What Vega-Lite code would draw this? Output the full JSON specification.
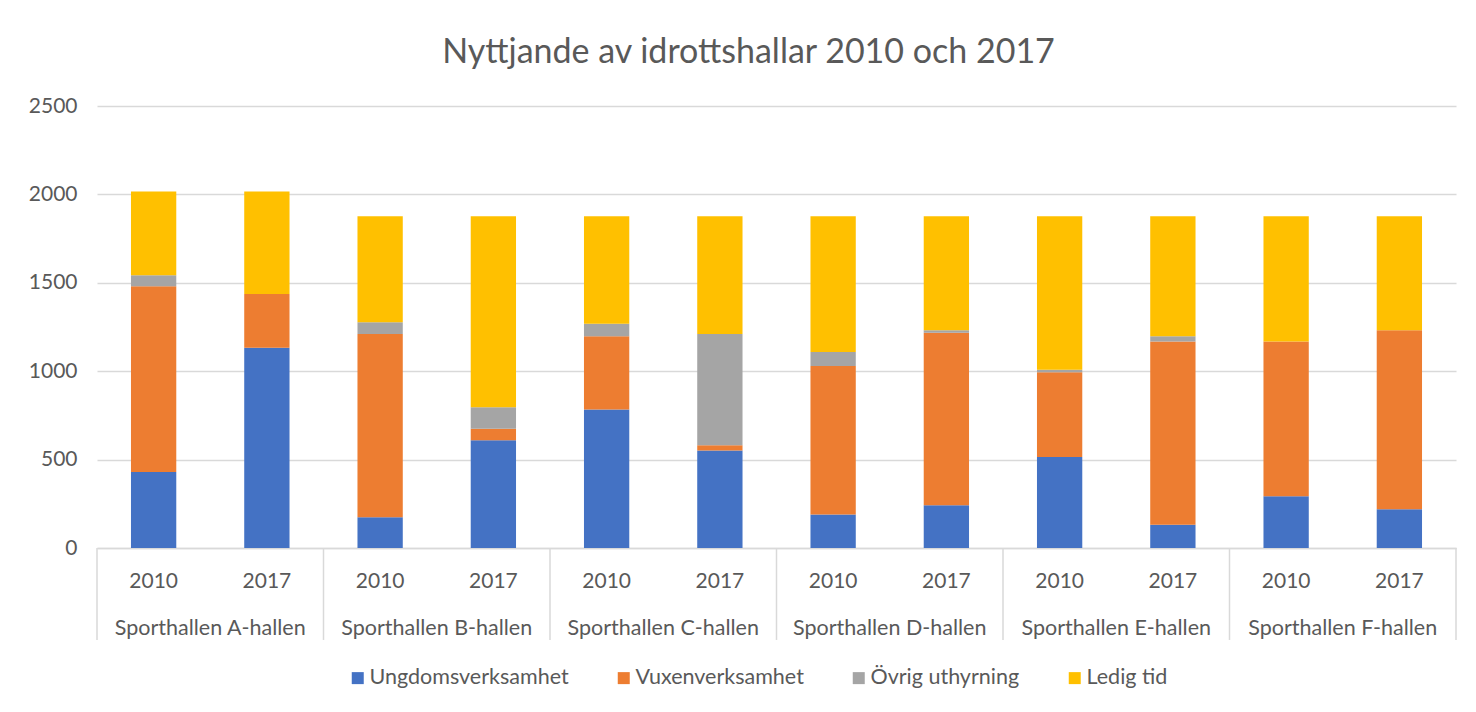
{
  "$schema": "https://vega.github.io/schema/vega-lite/v6.json",
  "width": 1359,
  "height": 442,
  "autosize": "none",
  "padding": {"left": 97, "top": 106, "right": 20, "bottom": 164},
  "background": "white",
  "title": {"text": "Nyttjande av idrottshallar 2010 och 2017", "font": "Lato", "fontSize": 34, "fontWeight": "normal", "color": "#595959", "offset": 25, "dx": -28, "anchor": "middle"},
  "data": {"values": [
    {"hall": "Sporthallen A-hallen", "year": "2010", "pos": "Sporthallen A-hallen|2010", "cat": "Ungdomsverksamhet", "value": 430},
    {"hall": "Sporthallen A-hallen", "year": "2010", "pos": "Sporthallen A-hallen|2010", "cat": "Vuxenverksamhet", "value": 1050},
    {"hall": "Sporthallen A-hallen", "year": "2010", "pos": "Sporthallen A-hallen|2010", "cat": "Övrig uthyrning", "value": 62},
    {"hall": "Sporthallen A-hallen", "year": "2010", "pos": "Sporthallen A-hallen|2010", "cat": "Ledig tid", "value": 474},
    {"hall": "Sporthallen A-hallen", "year": "2017", "pos": "Sporthallen A-hallen|2017", "cat": "Ungdomsverksamhet", "value": 1132},
    {"hall": "Sporthallen A-hallen", "year": "2017", "pos": "Sporthallen A-hallen|2017", "cat": "Vuxenverksamhet", "value": 304},
    {"hall": "Sporthallen A-hallen", "year": "2017", "pos": "Sporthallen A-hallen|2017", "cat": "Övrig uthyrning", "value": 0},
    {"hall": "Sporthallen A-hallen", "year": "2017", "pos": "Sporthallen A-hallen|2017", "cat": "Ledig tid", "value": 580},
    {"hall": "Sporthallen B-hallen", "year": "2010", "pos": "Sporthallen B-hallen|2010", "cat": "Ungdomsverksamhet", "value": 174},
    {"hall": "Sporthallen B-hallen", "year": "2010", "pos": "Sporthallen B-hallen|2010", "cat": "Vuxenverksamhet", "value": 1037},
    {"hall": "Sporthallen B-hallen", "year": "2010", "pos": "Sporthallen B-hallen|2010", "cat": "Övrig uthyrning", "value": 66},
    {"hall": "Sporthallen B-hallen", "year": "2010", "pos": "Sporthallen B-hallen|2010", "cat": "Ledig tid", "value": 600},
    {"hall": "Sporthallen B-hallen", "year": "2017", "pos": "Sporthallen B-hallen|2017", "cat": "Ungdomsverksamhet", "value": 609},
    {"hall": "Sporthallen B-hallen", "year": "2017", "pos": "Sporthallen B-hallen|2017", "cat": "Vuxenverksamhet", "value": 66},
    {"hall": "Sporthallen B-hallen", "year": "2017", "pos": "Sporthallen B-hallen|2017", "cat": "Övrig uthyrning", "value": 121},
    {"hall": "Sporthallen B-hallen", "year": "2017", "pos": "Sporthallen B-hallen|2017", "cat": "Ledig tid", "value": 1081},
    {"hall": "Sporthallen C-hallen", "year": "2010", "pos": "Sporthallen C-hallen|2010", "cat": "Ungdomsverksamhet", "value": 783},
    {"hall": "Sporthallen C-hallen", "year": "2010", "pos": "Sporthallen C-hallen|2010", "cat": "Vuxenverksamhet", "value": 415},
    {"hall": "Sporthallen C-hallen", "year": "2010", "pos": "Sporthallen C-hallen|2010", "cat": "Övrig uthyrning", "value": 70},
    {"hall": "Sporthallen C-hallen", "year": "2010", "pos": "Sporthallen C-hallen|2010", "cat": "Ledig tid", "value": 609},
    {"hall": "Sporthallen C-hallen", "year": "2017", "pos": "Sporthallen C-hallen|2017", "cat": "Ungdomsverksamhet", "value": 551},
    {"hall": "Sporthallen C-hallen", "year": "2017", "pos": "Sporthallen C-hallen|2017", "cat": "Vuxenverksamhet", "value": 30},
    {"hall": "Sporthallen C-hallen", "year": "2017", "pos": "Sporthallen C-hallen|2017", "cat": "Övrig uthyrning", "value": 630},
    {"hall": "Sporthallen C-hallen", "year": "2017", "pos": "Sporthallen C-hallen|2017", "cat": "Ledig tid", "value": 666},
    {"hall": "Sporthallen D-hallen", "year": "2010", "pos": "Sporthallen D-hallen|2010", "cat": "Ungdomsverksamhet", "value": 189},
    {"hall": "Sporthallen D-hallen", "year": "2010", "pos": "Sporthallen D-hallen|2010", "cat": "Vuxenverksamhet", "value": 841},
    {"hall": "Sporthallen D-hallen", "year": "2010", "pos": "Sporthallen D-hallen|2010", "cat": "Övrig uthyrning", "value": 79},
    {"hall": "Sporthallen D-hallen", "year": "2010", "pos": "Sporthallen D-hallen|2010", "cat": "Ledig tid", "value": 768},
    {"hall": "Sporthallen D-hallen", "year": "2017", "pos": "Sporthallen D-hallen|2017", "cat": "Ungdomsverksamhet", "value": 242},
    {"hall": "Sporthallen D-hallen", "year": "2017", "pos": "Sporthallen D-hallen|2017", "cat": "Vuxenverksamhet", "value": 975},
    {"hall": "Sporthallen D-hallen", "year": "2017", "pos": "Sporthallen D-hallen|2017", "cat": "Övrig uthyrning", "value": 15},
    {"hall": "Sporthallen D-hallen", "year": "2017", "pos": "Sporthallen D-hallen|2017", "cat": "Ledig tid", "value": 645},
    {"hall": "Sporthallen E-hallen", "year": "2010", "pos": "Sporthallen E-hallen|2010", "cat": "Ungdomsverksamhet", "value": 515},
    {"hall": "Sporthallen E-hallen", "year": "2010", "pos": "Sporthallen E-hallen|2010", "cat": "Vuxenverksamhet", "value": 479},
    {"hall": "Sporthallen E-hallen", "year": "2010", "pos": "Sporthallen E-hallen|2010", "cat": "Övrig uthyrning", "value": 14},
    {"hall": "Sporthallen E-hallen", "year": "2010", "pos": "Sporthallen E-hallen|2010", "cat": "Ledig tid", "value": 869},
    {"hall": "Sporthallen E-hallen", "year": "2017", "pos": "Sporthallen E-hallen|2017", "cat": "Ungdomsverksamhet", "value": 132},
    {"hall": "Sporthallen E-hallen", "year": "2017", "pos": "Sporthallen E-hallen|2017", "cat": "Vuxenverksamhet", "value": 1036},
    {"hall": "Sporthallen E-hallen", "year": "2017", "pos": "Sporthallen E-hallen|2017", "cat": "Övrig uthyrning", "value": 30},
    {"hall": "Sporthallen E-hallen", "year": "2017", "pos": "Sporthallen E-hallen|2017", "cat": "Ledig tid", "value": 679},
    {"hall": "Sporthallen F-hallen", "year": "2010", "pos": "Sporthallen F-hallen|2010", "cat": "Ungdomsverksamhet", "value": 292},
    {"hall": "Sporthallen F-hallen", "year": "2010", "pos": "Sporthallen F-hallen|2010", "cat": "Vuxenverksamhet", "value": 876},
    {"hall": "Sporthallen F-hallen", "year": "2010", "pos": "Sporthallen F-hallen|2010", "cat": "Övrig uthyrning", "value": 0},
    {"hall": "Sporthallen F-hallen", "year": "2010", "pos": "Sporthallen F-hallen|2010", "cat": "Ledig tid", "value": 709},
    {"hall": "Sporthallen F-hallen", "year": "2017", "pos": "Sporthallen F-hallen|2017", "cat": "Ungdomsverksamhet", "value": 219},
    {"hall": "Sporthallen F-hallen", "year": "2017", "pos": "Sporthallen F-hallen|2017", "cat": "Vuxenverksamhet", "value": 1013},
    {"hall": "Sporthallen F-hallen", "year": "2017", "pos": "Sporthallen F-hallen|2017", "cat": "Övrig uthyrning", "value": 0},
    {"hall": "Sporthallen F-hallen", "year": "2017", "pos": "Sporthallen F-hallen|2017", "cat": "Ledig tid", "value": 645}
  ]},
  "layer": [
    {
      "transform": [{"calculate": "indexof(['Ungdomsverksamhet', 'Vuxenverksamhet', 'Övrig uthyrning', 'Ledig tid'], datum.cat)", "as": "stackorder"}],
      "mark": {"type": "bar", "width": {"band": 0.4}},
      "encoding": {
        "x": {
          "field": "pos", "type": "nominal",
          "scale": {"type": "band", "paddingInner": 0, "paddingOuter": 0, "domain": [
            "Sporthallen A-hallen|2010", "Sporthallen A-hallen|2017",
            "Sporthallen B-hallen|2010", "Sporthallen B-hallen|2017",
            "Sporthallen C-hallen|2010", "Sporthallen C-hallen|2017",
            "Sporthallen D-hallen|2010", "Sporthallen D-hallen|2017",
            "Sporthallen E-hallen|2010", "Sporthallen E-hallen|2017",
            "Sporthallen F-hallen|2010", "Sporthallen F-hallen|2017"]},
          "axis": {"title": null, "orient": "bottom", "labelExpr": "split(datum.value, '|')[1]", "labelAngle": 0, "labelLimit": 0, "ticks": false, "tickSize": 0, "domain": true, "domainColor": "#d9d9d9", "domainWidth": 1.5, "grid": false, "labelPadding": 33, "labelBaseline": "middle", "labelFont": "Lato", "labelFontSize": 21, "labelColor": "#595959"}
        },
        "y": {
          "field": "value", "type": "quantitative", "stack": "zero",
          "scale": {"domain": [0, 2500], "nice": false},
          "axis": {"title": null, "values": [0, 500, 1000, 1500, 2000, 2500], "format": "d", "grid": true, "gridColor": "#d9d9d9", "gridWidth": 1.5, "domain": false, "ticks": false, "tickSize": 0, "labelPadding": 20, "labelFont": "Lato", "labelFontSize": 21, "labelColor": "#595959"}
        },
        "order": {"field": "stackorder", "type": "quantitative", "sort": "ascending"},
        "color": {
          "field": "cat", "type": "nominal",
          "sort": ["Ungdomsverksamhet", "Vuxenverksamhet", "Övrig uthyrning", "Ledig tid"],
          "scale": {"domain": ["Ungdomsverksamhet", "Vuxenverksamhet", "Övrig uthyrning", "Ledig tid"], "range": ["#4472C4", "#ED7D31", "#A5A5A5", "#FFC000"]},
          "legend": {"title": null, "orient": "none", "legendX": 250, "legendY": 561, "direction": "horizontal", "symbolType": "square", "symbolSize": 144, "symbolStrokeWidth": 0, "labelFont": "Lato", "labelFontSize": 21.5, "labelLimit": 0, "labelColor": "#595959", "columnPadding": 44, "labelOffset": 1}
        }
      }
    },
    {
      "transform": [{"aggregate": [{"op": "count", "as": "n"}], "groupby": ["hall"]}],
      "layer": [
        {
          "mark": {"type": "rule", "color": "#d9d9d9", "strokeWidth": 1.5},
          "encoding": {
            "x": {"field": "hall", "type": "nominal", "bandPosition": 0,
              "scale": {"type": "band", "paddingInner": 0, "paddingOuter": 0, "domain": ["Sporthallen A-hallen", "Sporthallen B-hallen", "Sporthallen C-hallen", "Sporthallen D-hallen", "Sporthallen E-hallen", "Sporthallen F-hallen"]},
              "axis": {"title": null, "orient": "bottom", "labelAngle": 0, "labelLimit": 0, "ticks": false, "tickSize": 0, "domain": false, "grid": false, "labelPadding": 80, "labelBaseline": "middle", "labelFont": "Lato", "labelFontSize": 21.5, "labelColor": "#595959"}},
            "y": {"datum": 0},
            "y2": {"datum": -520}
          }
        },
        {
          "transform": [{"filter": "datum.hall == 'Sporthallen F-hallen'"}],
          "mark": {"type": "rule", "color": "#d9d9d9", "strokeWidth": 1.5},
          "encoding": {
            "x": {"field": "hall", "type": "nominal", "bandPosition": 1},
            "y": {"datum": 0},
            "y2": {"datum": -520}
          }
        }
      ]
    }
  ],
  "resolve": {"scale": {"x": "independent"}, "axis": {"x": "independent"}},
  "config": {"view": {"stroke": null}}
}
